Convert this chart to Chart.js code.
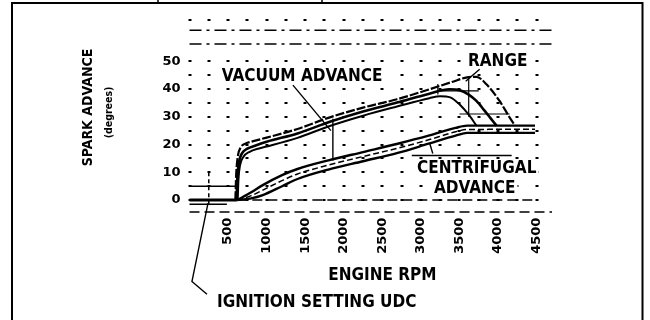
<!DOCTYPE html>
<html>
<head>
<meta charset="utf-8">
<script src="https://cdn.jsdelivr.net/npm/chart.js@4.4.1/dist/chart.umd.min.js"></script>
<style>
  html, body { margin: 0; padding: 0; background: #fff; }
  canvas { display: block; }
</style>
</head>
<body>
<canvas id="chart" width="650" height="320"></canvas>
<script>
// ---- data: engine speed (rpm) against spark advance (degrees) ----
const rpmLabels = [500, 1000, 1500, 2000, 2500, 3000, 3500, 4000, 4500];
const degreeLabels = [0, 10, 20, 30, 40, 50];

// centrifugal advance band (upper edge, centre, lower edge)
const centRpm  = [620, 800, 950, 1200, 1400, 1800, 2250, 2700, 3100, 3450, 3600, 4480];
const centHigh = [0, 2.8, 5.4, 9.0, 11.2, 14.3, 17.3, 20.3, 23.2, 26.0, 26.8, 26.8];
const centMid  = [0, 1.6, 3.6, 7.0, 9.4, 12.6, 15.7, 18.7, 21.7, 24.6, 25.4, 25.5];
const centLow  = [0, 0.6, 1.8, 5.0, 7.6, 11.0, 14.0, 17.0, 20.3, 23.2, 24.2, 24.2];

// vacuum advance band and its range
const vacHighRpm = [595, 605, 625, 665, 730, 800, 1000, 1400, 1820, 2250, 2690, 3110, 3400, 3600, 3720, 3850, 4020, 4150, 4220];
const vacHighDeg = [0, 9, 15.5, 19, 20.4, 21.0, 22.5, 25.6, 29.8, 33.3, 36.3, 39.9, 42.5, 44.2, 44.4, 41.7, 35.7, 29.8, 26.8];
const vacMidRpm  = [610, 620, 640, 680, 750, 850, 1000, 1400, 1820, 2250, 2690, 3110, 3370, 3500, 3620, 3720, 3820, 3900, 3980];
const vacMidDeg  = [0, 8, 13.5, 16.8, 18.5, 19.6, 21.0, 24.0, 28.2, 31.9, 35.1, 38.3, 39.9, 39.6, 38.0, 35.7, 32.4, 29.6, 26.8];
const vacLowRpm  = [625, 635, 655, 700, 780, 900, 1000, 1400, 1820, 2250, 2690, 3110, 3250, 3380, 3500, 3630, 3720];
const vacLowDeg  = [0, 7.5, 12.5, 15.6, 17.4, 18.6, 19.3, 22.4, 26.7, 30.4, 33.7, 36.7, 37.4, 37.0, 34.5, 30.4, 26.8];

// short setting lines at the left of the graph
const settingRpm    = [0, 615];
const settingUpper  = [5, 5];
const settingZero   = [0, 0];
const settingLowRpm = [0, 485];
const settingLow    = [-1.5, -1.5];

// ---- styling ----
const INK = '#000';
const HEAVY = "'DejaVu Sans Condensed', 'Liberation Sans Narrow', 'DejaVu Sans', sans-serif";
const RPM_MAX = 4700;
const DEG_MIN = -4.5;
const DEG_MAX = 66;

const pairs = (xs, ys) => xs.map((x, i) => ({ x, y: ys[i] }));

function band(data, width, dash) {
  return {
    data,
    borderColor: INK,
    borderWidth: width,
    borderDash: dash || [],
    pointRadius: 0,
    fill: false,
    cubicInterpolationMode: 'monotone',
    clip: false
  };
}

// lettering placed in data units (rpm, degrees); deg is the text baseline
const notes = [
  { text: 'VACUUM ADVANCE', rpm: 1460, deg: 42.9, size: 17 },
  { text: 'RANGE', rpm: 3996, deg: 48.2, size: 17 },
  { text: 'CENTRIFUGAL', rpm: 3724, deg: 9.6, size: 17 },
  { text: 'ADVANCE', rpm: 3698, deg: 2.5, size: 17 }
];

// pointer lines, in data units
const leaders = [
  [[1341, 41.4], [1833, 25.0]],
  [[1859, 29.3], [1859, 14.3]],
  [[3762, 47.1], [3581, 42.8]],
  [[3154, 16.8], [3115, 20.4]],
  [[2882, 16.05], [4177, 16.05]],
  [[240, -1.1], [32, -29.3], [227, -33.9]]
];

// hatching inside the range area
const hatching = [
  [[3220, 39.3], [3750, 39.3]],
  [[3500, 31.0], [4150, 31.0]],
  [[3220, 38.0], [3220, 41.8]],
  [[3620, 30.0], [3620, 44.0]]
];

function strokePath(ctx, x, y, pts) {
  ctx.beginPath();
  pts.forEach(([r, d], i) => {
    const px = x.getPixelForValue(r), py = y.getPixelForValue(d);
    if (i === 0) ctx.moveTo(px, py); else ctx.lineTo(px, py);
  });
  ctx.stroke();
}

const paperPlugin = {
  id: 'paper',
  beforeDatasetsDraw(chart) {
    const { ctx, scales: { x, y } } = chart;
    ctx.save();
    ctx.fillStyle = INK;
    // dotted graph grid
    for (let r = 0; r <= RPM_MAX; r += 250) {
      for (let d = 0; d <= 65; d += 5) {
        if (d === 55 || d === 60) continue;
        ctx.fillRect(Math.round(x.getPixelForValue(r)) - 1.5, Math.round(y.getPixelForValue(d)) - 1, 3, 2);
      }
    }
    // ruled guide lines
    ctx.strokeStyle = INK;
    ctx.lineWidth = 1.5;
    ctx.setLineDash([12, 5, 3, 5]);
    [56.2, 61.2].forEach(d => strokePath(ctx, x, y, [[0, d], [RPM_MAX, d]]));
    ctx.setLineDash([10, 5]);
    strokePath(ctx, x, y, [[0, -4.3], [RPM_MAX, -4.3]]);
    strokePath(ctx, x, y, [[620, 0], [4450, 0]]);
    ctx.setLineDash([4, 3]);
    strokePath(ctx, x, y, [[250, -1.5], [250, 11]]);
    ctx.restore();
  },
  afterDatasetsDraw(chart) {
    const { ctx, scales: { x, y } } = chart;
    ctx.save();
    ctx.strokeStyle = INK;
    ctx.lineWidth = 1.4;
    leaders.forEach(p => strokePath(ctx, x, y, p));
    ctx.lineWidth = 1.2;
    hatching.forEach(p => strokePath(ctx, x, y, p));

    ctx.textAlign = 'center';
    ctx.textBaseline = 'alphabetic';
    notes.forEach(n => {
      ctx.font = `bold ${n.size}px ${HEAVY}`;
      const px = x.getPixelForValue(n.rpm), py = y.getPixelForValue(n.deg);
      const w = ctx.measureText(n.text).width;
      ctx.fillStyle = '#fff';
      ctx.fillRect(px - w / 2 - 2, py - n.size * 0.78, w + 4, n.size * 0.85);
      ctx.fillStyle = INK;
      ctx.fillText(n.text, px, py);
    });
    ctx.restore();
  },
  afterDraw(chart) {
    const { ctx, scales: { x } } = chart;
    ctx.save();
    ctx.fillStyle = INK;
    ctx.textBaseline = 'alphabetic';
    // axis titles
    ctx.font = `bold 17px ${HEAVY}`;
    ctx.textAlign = 'center';
    ctx.fillText('ENGINE RPM', x.getPixelForValue(2500), 280);
    ctx.textAlign = 'left';
    ctx.fillText('IGNITION SETTING UDC', 217, 307);

    ctx.save();
    ctx.translate(92, 107.5);
    ctx.rotate(-Math.PI / 2);
    ctx.textAlign = 'center';
    ctx.font = `bold 14px ${HEAVY}`;
    ctx.fillText('SPARK ADVANCE', 0, 0);
    ctx.restore();

    ctx.save();
    ctx.translate(112, 112.5);
    ctx.rotate(-Math.PI / 2);
    ctx.textAlign = 'center';
    ctx.font = `bold 10.5px ${HEAVY}`;
    ctx.fillText('(degrees)', 0, 0);
    ctx.restore();

    // sheet border
    ctx.strokeStyle = INK;
    ctx.lineWidth = 2;
    ctx.beginPath();
    ctx.moveTo(12, 322);
    ctx.lineTo(12, 3);
    ctx.lineTo(642.5, 3);
    ctx.lineTo(642.5, 322);
    ctx.stroke();
    ctx.lineWidth = 1.5;
    ctx.beginPath();
    ctx.moveTo(158, 0); ctx.lineTo(158, 4);
    ctx.moveTo(322, 0); ctx.lineTo(322, 4);
    ctx.stroke();
    ctx.restore();
  }
};

new Chart(document.getElementById('chart'), {
  type: 'line',
  data: {
    datasets: [
      band(pairs(centRpm, centHigh), 2.4),
      band(pairs(centRpm, centMid), 1.5, [6, 3]),
      band(pairs(centRpm, centLow), 2.4),
      band(pairs(vacHighRpm, vacHighDeg), 2.2, [9, 2]),
      band(pairs(vacMidRpm, vacMidDeg), 2.6),
      band(pairs(vacLowRpm, vacLowDeg), 2),
      band(pairs(settingRpm, settingUpper), 1.5),
      band(pairs(settingRpm, settingZero), 3),
      band(pairs(settingLowRpm, settingLow), 1.5)
    ]
  },
  options: {
    responsive: false,
    animation: false,
    events: [],
    layout: { padding: { top: 15.2, right: 98, left: 0, bottom: 0 } },
    plugins: { legend: { display: false }, tooltip: { enabled: false } },
    scales: {
      x: {
        type: 'linear',
        min: 0,
        max: RPM_MAX,
        afterBuildTicks: s => { s.ticks = rpmLabels.map(v => ({ value: v })); },
        afterFit: s => { s.height = 320 - 212.6; },
        grid: { display: false, drawTicks: false },
        border: { display: false },
        ticks: {
          autoSkip: false,
          maxRotation: 90,
          minRotation: 90,
          padding: 5,
          color: INK,
          font: { family: 'DejaVu Sans', weight: 'bold', size: 13 },
          callback: v => String(v)
        }
      },
      y: {
        type: 'linear',
        min: DEG_MIN,
        max: DEG_MAX,
        afterBuildTicks: s => { s.ticks = degreeLabels.map(v => ({ value: v })); },
        afterFit: s => { s.width = 189.5; },
        grid: { display: false, drawTicks: false },
        border: { display: false },
        ticks: {
          autoSkip: false,
          padding: 9,
          color: INK,
          font: { family: 'DejaVu Sans', weight: 'bold', size: 13 },
          callback: v => String(v)
        }
      }
    }
  },
  plugins: [paperPlugin]
});
</script>
</body>
</html>
